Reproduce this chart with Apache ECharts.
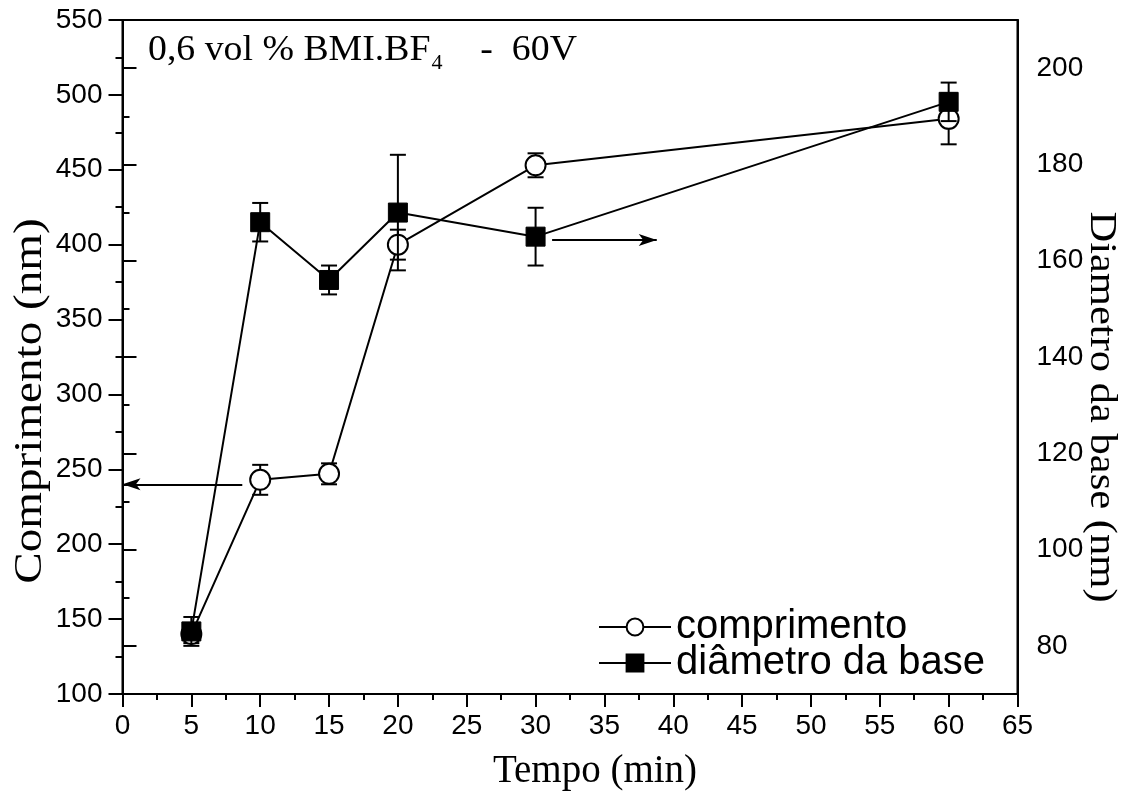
<!DOCTYPE html>
<html>
<head>
<meta charset="utf-8">
<script src="https://cdn.jsdelivr.net/npm/echarts@6/dist/echarts.min.js"></script>
<style>
  html, body { margin: 0; padding: 0; background: #fff; }
  #main { width: 1130px; height: 800px; }
</style>
</head>
<body>
<div id="main"></div>
<script>
// tempo (min)
var tempo = [5, 10, 15, 20, 30, 60];
// comprimento (nm), eixo esquerdo
var comprimento = [140, 243, 247, 400, 453, 484];
var comprimentoErr = [6, 10, 7, 10, 8, 17];
// diametro da base (nm), eixo direito
var diametro = [83, 168, 156, 170, 165, 193];
var diametroErr = [3, 4, 3, 12, 6, 4];
// setas indicando o eixo
var setaEsq = [[8.7, 240], [0, 240]];
var setaDir = [[31.2, 164.3], [38.8, 164.3]];

var serif = "'Liberation Serif', 'Times New Roman', serif";
var sans = "'Liberation Sans', Arial, sans-serif";

function pares(ys) {
  return tempo.map(function (t, i) { return [t, ys[i]]; });
}
function barras(ys, errs) {
  return tempo.map(function (t, i) { return [t, ys[i], errs[i]]; });
}

function desenhaErro(params, api) {
  var x = api.value(0), v = api.value(1), e = api.value(2);
  var hi = api.coord([x, v + e]);
  var lo = api.coord([x, v - e]);
  var w = 8;
  var st = { stroke: '#000', lineWidth: 2 };
  return {
    type: 'group',
    children: [
      { type: 'line', shape: { x1: hi[0], y1: hi[1], x2: lo[0], y2: lo[1] }, style: st },
      { type: 'line', shape: { x1: hi[0] - w, y1: hi[1], x2: hi[0] + w, y2: hi[1] }, style: st },
      { type: 'line', shape: { x1: lo[0] - w, y1: lo[1], x2: lo[0] + w, y2: lo[1] }, style: st }
    ]
  };
}

var chart = echarts.init(document.getElementById('main'));

var tickLabel = { color: '#000', fontSize: 28, fontFamily: sans };

var option = {
  animation: false,
  backgroundColor: '#fff',
  grid: [
    { left: 122.5, right: 112.5, top: 20, bottom: 106, show: true, borderColor: '#000', borderWidth: 2 },
    // só para os ticks do eixo direito (80..200)
    { left: 122.5, right: 112.5, top: 68.1, bottom: 154.1 }
  ],
  xAxis: [
    {
      type: 'value', gridIndex: 0, min: 0, max: 65, interval: 5,
      axisLine: { show: true, lineStyle: { color: '#000', width: 2 } },
      axisTick: { show: true, inside: false, length: 13, lineStyle: { color: '#000', width: 2 } },
      minorTick: { show: true, splitNumber: 2, length: 6, lineStyle: { color: '#000', width: 2 } },
      axisLabel: Object.assign({ margin: 18 }, tickLabel),
      splitLine: { show: false }
    },
    { type: 'value', gridIndex: 1, min: 0, max: 65, show: false }
  ],
  yAxis: [
    {
      type: 'value', gridIndex: 0, position: 'left', min: 100, max: 550, interval: 50,
      axisLine: { show: true, lineStyle: { color: '#000', width: 2 } },
      axisTick: { show: true, inside: false, length: 14, lineStyle: { color: '#000', width: 2 } },
      minorTick: { show: true, splitNumber: 2, length: 7, lineStyle: { color: '#000', width: 2 } },
      axisLabel: Object.assign({ margin: 20 }, tickLabel),
      splitLine: { show: false }
    },
    {
      type: 'value', gridIndex: 0, position: 'right', min: 70, max: 210,
      axisLine: { show: true, lineStyle: { color: '#000', width: 2 } },
      axisTick: { show: false },
      axisLabel: { show: false },
      splitLine: { show: false }
    },
    {
      type: 'value', gridIndex: 1, position: 'right', min: 80, max: 200, interval: 20,
      axisLine: { show: false },
      axisTick: { show: true, inside: false, length: 14, lineStyle: { color: '#000', width: 2 } },
      minorTick: { show: true, splitNumber: 2, length: 7, lineStyle: { color: '#000', width: 2 } },
      axisLabel: Object.assign({ margin: 19 }, tickLabel),
      splitLine: { show: false }
    }
  ],
  legend: {
    orient: 'vertical',
    left: 593,
    top: 602,
    itemWidth: 72,
    itemHeight: 21,
    itemGap: -4,
    textStyle: { color: '#000', fontSize: 40, fontFamily: sans },
    data: ['comprimento', 'diâmetro da base']
  },
  graphic: [
    {
      type: 'text', x: 148, y: 51, scaleX: 1.05,
      style: {
        text: '0,6 vol % BMI.BF{sub|4}    -  60V',
        font: '36px ' + serif, fill: '#000', align: 'left', verticalAlign: 'middle',
        rich: { sub: { fontSize: 21, fontFamily: serif, padding: [24, 0, 0, 1] } }
      }
    },
    {
      type: 'text', x: 30, y: 401, rotation: Math.PI / 2, scaleX: 1.15,
      style: { text: 'Comprimento (nm)', font: '41px ' + serif, fill: '#000', align: 'center', verticalAlign: 'middle' }
    },
    {
      type: 'text', x: 1101, y: 407, rotation: -Math.PI / 2, scaleX: 1.12,
      style: { text: 'Diametro da base (nm)', font: '38px ' + serif, fill: '#000', align: 'center', verticalAlign: 'middle' }
    },
    {
      type: 'text', x: 595, y: 772,
      style: { text: 'Tempo (min)', font: '39px ' + serif, fill: '#000', align: 'center', verticalAlign: 'middle' }
    }
  ],
  series: [
    {
      type: 'custom', name: 'errComp', xAxisIndex: 0, yAxisIndex: 0, z: 2,
      renderItem: desenhaErro, data: barras(comprimento, comprimentoErr), silent: true
    },
    {
      type: 'line', name: 'comprimento', xAxisIndex: 0, yAxisIndex: 0, z: 3,
      data: pares(comprimento),
      symbol: 'circle', symbolSize: 20, showAllSymbol: true,
      lineStyle: { color: '#000', width: 2 },
      itemStyle: { color: '#fff', borderColor: '#000', borderWidth: 2 },
      markLine: {
        silent: true, symbol: ['none', 'arrow'], symbolSize: [9, 18],
        label: { show: false },
        lineStyle: { color: '#000', width: 2, type: 'solid' },
        data: [[{ coord: setaEsq[0] }, { coord: setaEsq[1] }]]
      }
    },
    {
      type: 'custom', name: 'errDiam', xAxisIndex: 0, yAxisIndex: 1, z: 4,
      renderItem: desenhaErro, data: barras(diametro, diametroErr), silent: true
    },
    {
      type: 'line', name: 'diâmetro da base', xAxisIndex: 0, yAxisIndex: 1, z: 5,
      data: pares(diametro),
      symbol: 'rect', symbolSize: 19, showAllSymbol: true,
      lineStyle: { color: '#000', width: 2 },
      itemStyle: { color: '#000', borderColor: '#000', borderWidth: 1 },
      markLine: {
        silent: true, symbol: ['none', 'arrow'], symbolSize: [9, 18],
        label: { show: false },
        lineStyle: { color: '#000', width: 2, type: 'solid' },
        data: [[{ coord: setaDir[0] }, { coord: setaDir[1] }]]
      }
    }
  ]
};

chart.setOption(option);
</script>
</body>
</html>
